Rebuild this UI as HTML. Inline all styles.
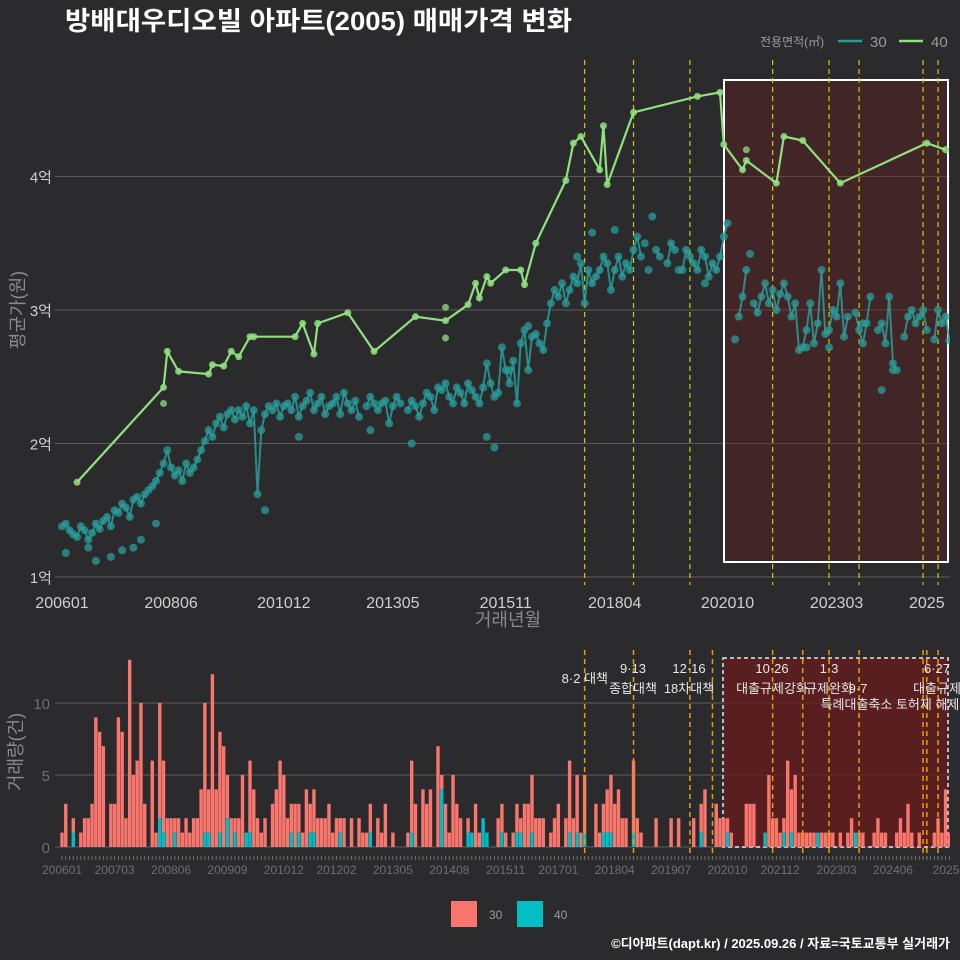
<!DOCTYPE html>
<html><head><meta charset="utf-8">
<style>
html,body{margin:0;padding:0;background:#2b2b2d;}
svg{display:block;font-family:"Liberation Sans","Noto Sans CJK KR",sans-serif;}
</style></head>
<body>
<svg id="chart" width="960" height="960" viewBox="0 0 960 960" xmlns="http://www.w3.org/2000/svg">
<rect x="0" y="0" width="960" height="960" fill="#2b2b2d"/>
<text x="65" y="30" font-size="26" font-weight="bold" fill="#ffffff" textLength="507" lengthAdjust="spacingAndGlyphs">방배대우디오빌 아파트(2005) 매매가격 변화</text>
<g>
<text x="760" y="46" font-size="12" fill="#9a9a9a">전용면적(㎡)</text>
<line x1="838" y1="41" x2="862" y2="41" stroke="#2a9d9a" stroke-width="2.5"/>
<text x="870" y="47" font-size="15" fill="#9a9a9a">30</text>
<line x1="899" y1="41" x2="923" y2="41" stroke="#90e07f" stroke-width="2.5"/>
<text x="931" y="47" font-size="15" fill="#9a9a9a">40</text>
</g>
<g id="topG"></g>
<g id="botG"></g>
<text transform="translate(24,310) rotate(-90)" text-anchor="middle" font-size="18" fill="#8a8a8a">평균가(원)</text>
<text x="508" y="626" text-anchor="middle" font-size="18" fill="#8a8a8a">거래년월</text>
<text transform="translate(22,752) rotate(-90)" text-anchor="middle" font-size="18" fill="#8a8a8a">거래량(건)</text>
<g>
<rect x="451" y="901" width="26" height="26" fill="#f8766d"/>
<text x="489" y="919" font-size="12" fill="#9a9a9a">30</text>
<rect x="517" y="901" width="26" height="26" fill="#00bfc4"/>
<text x="554" y="919" font-size="12" fill="#9a9a9a">40</text>
</g>
<text x="950" y="948" text-anchor="end" font-size="13" font-weight="bold" fill="#ffffff">©디아파트(dapt.kr) / 2025.09.26 / 자료=국토교통부 실거래가</text>
</svg>
<script>
// ---- data ----
const priceTicks=[1,2,3,4];
const priceTickLabels=["1억","2억","3억","4억"];
const xTickMonths=["200601","200806","201012","201305","201511","201804","202010","202303","202503"];
const xTickLabels=["200601","200806","201012","201305","201511","201804","202010","202303","2025"];
const botTickMonths=["200601","200703","200806","200909","201012","201202","201305","201408","201511","201701","201804","201907","202010","202112","202303","202406","202509"];
const botTickLabels=["200601","200703","200806","200909","201012","201202","201305","201408","201511","201701","201804","201907","202010","202112","202303","202406","20250"];
const months40=["200605","200804","200805","200808","200904","200905","200908","200910","200912","201003","201004","201103","201105","201108","201109","201205","201212","201311","201407","201501","201503","201504","201506","201507","201511","201603","201604","201607","201703","201705","201707","201712","201801","201802","201809","202002","202008","202009","202102","202103","202111","202201","202206","202304","202503","202508"];
const price40=[1.71,2.42,2.69,2.54,2.52,2.59,2.58,2.69,2.65,2.80,2.80,2.80,2.90,2.67,2.90,2.98,2.69,2.95,2.92,3.04,3.20,3.09,3.25,3.20,3.30,3.30,3.19,3.50,3.97,4.25,4.30,4.05,4.38,3.94,4.48,4.60,4.63,4.24,4.05,4.12,3.95,4.30,4.27,3.95,4.25,4.20];
const extraMonths40=["200804","201407","201407","202103"];
const extraPrice40=[2.30,3.02,2.79,4.20];
const price30=[
1.38,1.40,1.35,1.32,1.30,1.38,1.35,1.28,1.33,1.40,1.36,1.42,
1.45,1.38,1.50,1.48,1.55,1.52,1.45,1.58,1.60,1.55,1.62,1.65,
1.68,1.72,1.78,1.85,1.95,1.82,1.76,1.80,1.72,1.85,1.78,1.82,
1.88,1.95,2.02,2.10,2.05,2.15,2.20,2.12,2.22,2.25,2.18,2.25,
2.20,2.28,2.15,2.25,1.62,2.10,2.22,2.28,2.25,2.30,2.20,2.28,
2.30,2.25,2.35,2.20,2.28,2.32,2.38,2.25,2.30,2.35,2.22,2.28,
2.30,2.35,2.22,2.38,2.30,2.25,2.32,2.20,null,2.28,2.35,2.30,
2.25,2.30,2.32,2.15,2.28,2.35,2.30,null,2.25,2.32,2.28,2.20,
2.30,2.38,2.35,2.25,2.42,2.40,2.45,2.35,2.30,2.42,2.38,2.30,
2.45,2.40,2.35,2.30,2.42,2.60,2.45,2.35,2.38,2.72,2.55,2.45,
2.62,2.30,2.75,2.85,2.55,2.80,2.82,2.75,2.70,2.90,3.05,3.15,
3.10,3.20,3.05,3.15,3.25,3.20,3.35,3.05,3.30,3.20,3.25,3.30,
3.40,3.35,3.15,3.30,3.40,3.25,3.35,3.30,3.45,3.55,3.40,null,
3.30,null,3.45,3.40,null,3.35,3.50,3.45,null,3.30,3.45,3.40,
3.35,3.30,3.45,3.40,3.25,3.35,3.30,3.40,3.55,3.65,null,null,
2.95,3.10,3.30,null,3.05,2.98,3.10,3.20,3.05,3.15,3.00,3.12,
3.20,3.10,2.95,3.05,2.70,2.72,2.85,3.05,2.75,2.90,3.30,2.82,
2.85,3.00,2.95,3.20,2.80,2.95,null,2.98,2.85,2.75,2.90,3.10,
null,2.85,2.90,2.75,3.10,2.60,2.55,null,2.80,2.95,3.00,2.90,
2.95,3.00,2.85,null,2.78,3.00,2.90,2.95,2.77];
const outlierMonths30=["200602","200608","200610","200702","200705","200708","200710","200802","201007","201104","201211","201310","201506","201508","201512","201605","201706","201710","201804","201812","201902","201909","202004","202012","202104","202207","202301","202310","202403","202406"];
const outlierPrice30=[1.18,1.22,1.12,1.15,1.20,1.22,1.28,1.40,1.50,2.05,2.10,2.00,2.05,1.97,2.55,2.88,3.40,3.58,3.60,3.50,3.70,3.30,3.20,2.78,3.42,2.72,2.72,2.90,2.40,2.55];
const volTotal=[1,3,0,2,0,1,2,2,3,9,8,7,0,3,3,9,8,2,13,5,6,10,3,0,6,1,10,6,2,2,2,2,1,2,1,2,2,4,10,4,12,4,8,7,5,2,2,2,5,1,6,4,2,1,2,0,3,4,6,5,2,3,3,3,1,4,3,4,2,2,2,3,1,2,2,2,0,2,0,2,1,1,3,0,2,1,3,0,1,0,0,0,1,6,3,0,4,3,4,0,7,5,3,1,5,3,2,0,2,1,3,1,2,1,0,0,2,3,1,0,1,3,2,3,3,5,2,2,
2,0,1,2,3,0,2,6,2,5,1,5,0,0,3,1,3,4,5,3,4,2,2,0,6,2,1,0,0,0,2,0,0,0,2,0,2,0,0,0,2,0,3,4,0,0,3,2,2,2,1,0,0,0,3,3,3,0,0,0,5,2,2,1,2,6,4,5,1,1,1,1,1,0,1,1,1,1,0,1,0,1,2,1,1,1,0,0,1,2,1,1,0,0,1,2,1,3,1,0,1,0,0,0,1,2,1,4,1,0,3,1];
const vol40=[0,0,0,1,0,0,0,0,0,0,0,0,0,0,0,0,0,0,0,0,0,0,0,0,0,0,2,1,0,0,1,0,0,0,0,0,0,0,1,1,0,0,1,0,2,0,1,0,0,1,1,0,0,0,0,0,0,0,0,0,0,1,0,1,0,0,1,1,0,0,0,0,0,0,1,0,0,0,0,0,0,0,1,0,0,0,0,0,0,0,0,0,0,1,0,0,0,0,0,0,0,4,0,0,0,0,0,0,1,1,0,0,2,1,0,0,0,1,0,0,0,1,1,0,0,1,0,0,
0,0,0,0,0,0,0,1,0,1,0,1,0,0,0,0,1,1,1,0,0,0,0,0,1,0,0,0,0,0,0,0,0,0,0,0,0,0,0,0,0,0,1,0,0,0,0,0,0,1,0,0,0,0,0,0,0,0,0,1,0,0,0,0,1,0,1,0,0,0,0,0,0,1,0,0,0,0,0,0,0,0,0,1,0,0,0,0,0,0,0,0,0,0,0,0,0,0,0,0,0,0,0,0,0,0,0,0,0,1,0,0,0,0,1,0];
const policyMonthsTop=["201708","201809","201912","202110","202301","202309","202502","202506"];
const policyMonthsBot=["201708","201809","201912","202006","202110","202206","202301","202309","202502","202503","202506"];
const policyDates=["8·2","9·13","12·16","10·26","1·3","9·7","6·27"];
const policyNames=["대책","종합대책","18차대책","대출규제강화","규제완화","특례대출축소 토허제 해제","대출규제"];

// ---- scales ----
const NS="http://www.w3.org/2000/svg";
function mi(s){return (parseInt(s.slice(0,4))-2006)*12+parseInt(s.slice(4,6))-1;}
function X(m){return 62+3.76*m;}
function YP(v){return 577-(v-1)*133.5;}
function YV(c){return 847-c*14.4;}
function mk(parent,tag,attrs){const e=document.createElementNS(NS,tag);for(const k in attrs)e.setAttribute(k,attrs[k]);parent.appendChild(e);return e;}
const topG=document.getElementById('topG'),botG=document.getElementById('botG');

const defs=mk(document.getElementById('chart'),'defs',{});
const cp1=mk(defs,'clipPath',{id:'c1'});mk(cp1,'rect',{x:38,y:55,width:912,height:530});
const cp2=mk(defs,'clipPath',{id:'c2'});mk(cp2,'rect',{x:38,y:640,width:912,height:215});

// ---- top panel ----
priceTicks.forEach((v,i)=>{
  const g=mk(topG,'line',{x1:55,x2:950,y1:YP(v),y2:YP(v),stroke:'#5c5c5c','stroke-width':1});
  
  
  const t=mk(topG,'text',{x:52,y:YP(v)+6,'text-anchor':'end','font-size':15,fill:'#cfcfcf'});
  t.textContent=priceTickLabels[i];
  
  
});
xTickMonths.forEach((s,i)=>{
  const t=mk(topG,'text',{x:X(mi(s)),y:608,'text-anchor':'middle','font-size':16,fill:'#cfcfcf'});
  t.textContent=xTickLabels[i];
  
  
});
const hl=mk(topG,'rect',{x:724,y:80,width:224,height:482,fill:'rgba(110,25,25,0.35)',stroke:'#ffffff','stroke-width':2});


policyMonthsTop.forEach(s=>{
  const l=mk(topG,'line',{x1:X(mi(s)),x2:X(mi(s)),y1:60,y2:585,stroke:'#d4c800','stroke-width':1.2,'stroke-dasharray':'5,4'});
  
  
});
const tg=mk(topG,'g',{'clip-path':'url(#c1)'});
let d='',pen=false;
price30.forEach((v,m)=>{if(v===null){pen=false;return;}d+=(pen?'L':'M')+X(m).toFixed(1)+','+YP(v).toFixed(1);pen=true;});
const l30=mk(tg,'path',{d:d,fill:'none',stroke:'#2a9d9a','stroke-width':2,opacity:0.85});


price30.forEach((v,m)=>{if(v===null)return;
  const c=mk(tg,'circle',{cx:X(m),cy:YP(v),r:4,fill:'#2a9d9a',opacity:0.75});
  
  
});
outlierMonths30.forEach((s,i)=>{
  const c=mk(tg,'circle',{cx:X(mi(s)),cy:YP(outlierPrice30[i]),r:4,fill:'#2a9d9a',opacity:0.75});
  
  
});
d='';
months40.forEach((s,i)=>{d+=(i?'L':'M')+X(mi(s)).toFixed(1)+','+YP(price40[i]).toFixed(1);});
const l40=mk(tg,'path',{d:d,fill:'none',stroke:'#90e07f','stroke-width':2.2});


months40.forEach((s,i)=>{
  const c=mk(tg,'circle',{cx:X(mi(s)),cy:YP(price40[i]),r:3.5,fill:'#90e07f',opacity:0.85});
  
  
});
extraMonths40.forEach((s,i)=>{
  const c=mk(tg,'circle',{cx:X(mi(s)),cy:YP(extraPrice40[i]),r:3.5,fill:'#90e07f',opacity:0.75});
  
  
});

// ---- bottom panel ----
[0,5,10].forEach(v=>{
  const g=mk(botG,'line',{x1:55,x2:950,y1:YV(v),y2:YV(v),stroke:'#5c5c5c','stroke-width':1});
  
  
  const t=mk(botG,'text',{x:50,y:YV(v)+6,'text-anchor':'end','font-size':15,fill:'#6f6f6f'});
  t.textContent=String(v);
  
  
});
const hl2=mk(botG,'rect',{x:723,y:658,width:225,height:189,fill:'rgba(110,25,25,0.7)',stroke:'#bbbbbb','stroke-width':2,'stroke-dasharray':'4,3'});


const bg=mk(botG,'g',{'clip-path':'url(#c2)'});
volTotal.forEach((c,m)=>{
  const t40=vol40[m]||0;
  if(c-t40>0){
    const r=mk(bg,'rect',{x:X(m)-1.7,y:YV(c),width:3.4,height:(c-t40)*14.4,fill:'#f8766d'});
    
    
  }
  if(t40>0){
    const r=mk(bg,'rect',{x:X(m)-1.7,y:YV(t40),width:3.4,height:t40*14.4,fill:'#00bfc4'});
    
    
  }
});
policyMonthsBot.forEach(s=>{
  const l=mk(botG,'line',{x1:X(mi(s)),x2:X(mi(s)),y1:650,y2:858,stroke:'#e8a000','stroke-width':1.5,'stroke-dasharray':'5,4'});
  
  
});
for(let m=0;m<=236;m++){
  const t=mk(botG,'line',{x1:X(m),x2:X(m),y1:856,y2:860,stroke:'#6f6f6f','stroke-width':1});
  
  
}
botTickMonths.forEach((s,i)=>{
  const t=mk(botG,'text',{x:X(mi(s)),y:874,'text-anchor':'middle','font-size':12,fill:'#6f6f6f'});
  t.textContent=botTickLabels[i];
  
  
});
const annos=[[608,683,0,'end',1],[633,673,1,'middle',0],[633,693,1,'middle',1],[689,673,2,'middle',0],[689,693,2,'middle',1],[772,673,3,'middle',0],[772,693,3,'middle',1],[829,673,4,'middle',0],[829,693,4,'middle',1],[858,693,5,'middle',0],[890,709,5,'middle',1],[937,673,6,'middle',0],[937,693,6,'middle',1]];
annos.forEach(a=>{
  const t=mk(botG,'text',{x:a[0],y:a[1],'text-anchor':a[3],'font-size':13,fill:'#e8e8e8'});
  let txt=a[4]?policyNames[a[2]]:policyDates[a[2]];
  if(a[2]===0)txt='8·2 대책';
  t.textContent=txt;
  
  
});
</script>
</body></html>
